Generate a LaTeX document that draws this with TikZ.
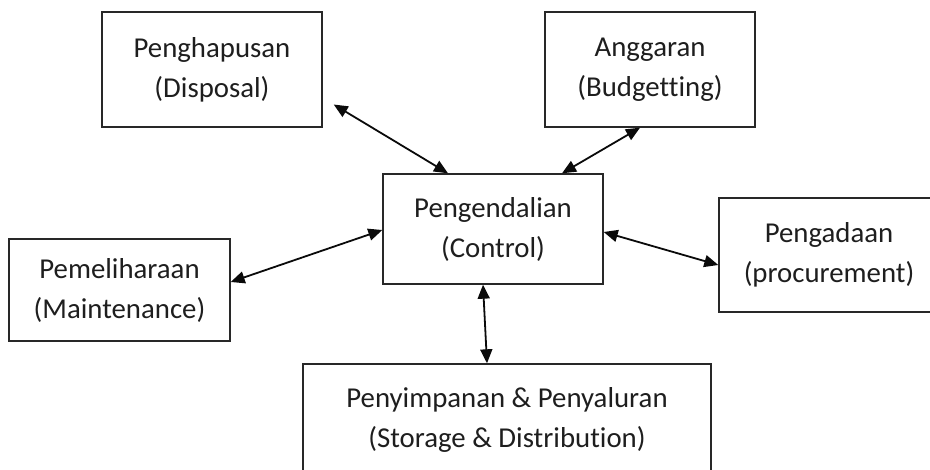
\documentclass[tikz,border=0pt]{standalone}
\usepackage{fontspec}
\setmainfont{Carlito}[Ligatures=NoCommon]
\usetikzlibrary{arrows.meta}
\tikzset{
  box/.style={rectangle, draw=boxdraw, line width=0.7pt, text=boxtext, align=center, inner sep=0pt, font=\fontsize{14.4}{20}\selectfont},
  link/.style={{Triangle[length=7pt,width=6pt]}-{Triangle[length=7pt,width=6pt]}, line width=0.9pt, draw=linkdraw}
}
\begin{document}
\begin{tikzpicture}[x=0.5pt,y=-0.5pt]
%Define all colors here.

\definecolor{boxdraw}{RGB}{40,40,40}
\definecolor{boxtext}{RGB}{30,30,30}
\definecolor{linkdraw}{RGB}{10,10,10}
\clip (0,0) rectangle (930,470);

\node(disposal) at (212,69.5) [box, minimum width=110pt, minimum height=57.5pt] {Penghapusan\\(Disposal)};

\node(budget) at (650,69.5) [box, minimum width=105pt, minimum height=57.5pt] {Anggaran\\(Budgetting)};

\node(control) at (493,229) [box, minimum width=110pt, minimum height=55pt] {Pengendalian\\(Control)};

\node(maint) at (119.5,290) [box, minimum width=110.5pt, minimum height=51pt] {Pemeliharaan\\(Maintenance)};

\node(procure) at (829,255) [box, minimum width=110pt, minimum height=57pt] {Pengadaan\\(procurement)};

\node(storage) at (507,420) [box, minimum width=204pt, minimum height=56pt] {Penyimpanan \& Penyaluran\\(Storage \& Distribution)};

\draw[link] ([shift={(11,35)}]disposal.east) -- ([shift={(-45,0)}]control.north);
\draw[link] ([shift={(-10,0)}]budget.south) -- ([shift={(69,0)}]control.north);
\draw[link] ([shift={(0,-8)}]maint.east) -- ([shift={(0,1)}]control.west);
\draw[link] ([shift={(0,3)}]control.east) -- ([shift={(0,10)}]procure.west);
\draw[link] ([shift={(-10,0)}]control.south) -- ([shift={(-20,0)}]storage.north);
\end{tikzpicture}
\end{document}
